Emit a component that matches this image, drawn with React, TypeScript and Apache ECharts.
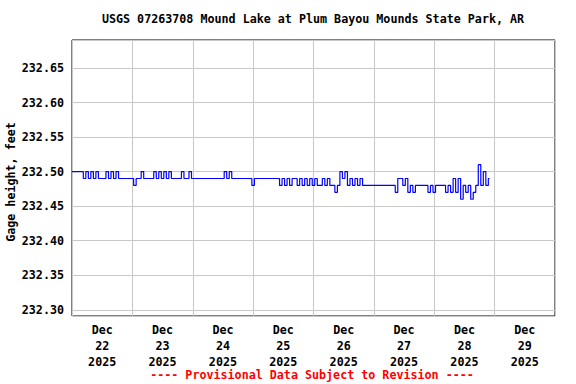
import React, { useEffect, useRef } from 'react';
import * as echarts from 'echarts';

const FONT = '"DejaVu Sans Mono", "Liberation Mono", monospace';
const FS = 11.7;
const TITLE = 'USGS 07263708 Mound Lake at Plum Bayou Mounds State Park, AR';
const FOOTER = '---- Provisional Data Subject to Revision ----';
const Y_NAME = 'Gage height, feet';
const MONTH = 'Dec';
const YEAR = '2025';
const DAYS = ['22', '23', '24', '25', '26', '27', '28', '29'];

// Hourly gage height (feet), starting Dec 22 2025 00:00
const STAGE = [
  232.50, 232.50, 232.50, 232.50, 232.50,
  232.49, 232.50, 232.49, 232.50, 232.49, 232.50, 232.49, 232.49, 232.49, 232.50, 232.49, 232.50, 232.49, 232.50,
  232.49, 232.49, 232.49, 232.49, 232.49, 232.49,
  232.48,
  232.49, 232.49,
  232.50,
  232.49, 232.49, 232.49, 232.49,
  232.50, 232.49, 232.50, 232.49, 232.50, 232.49, 232.50,
  232.49, 232.49, 232.49, 232.49,
  232.50,
  232.49, 232.49,
  232.50,
  232.49, 232.49, 232.49, 232.49, 232.49, 232.49, 232.49, 232.49, 232.49, 232.49, 232.49, 232.49, 232.49,
  232.50, 232.49, 232.50,
  232.49, 232.49, 232.49, 232.49, 232.49, 232.49, 232.49, 232.49,
  232.48,
  232.49, 232.49, 232.49, 232.49, 232.49, 232.49, 232.49, 232.49, 232.49, 232.49,
  232.48, 232.49, 232.48, 232.49, 232.48, 232.49, 232.49, 232.48, 232.49, 232.48, 232.49, 232.48, 232.49,
  232.48, 232.49, 232.48, 232.48, 232.49, 232.48, 232.49, 232.48, 232.48, 232.47,
  232.48, 232.50, 232.49, 232.50, 232.48, 232.49, 232.48, 232.49, 232.48, 232.49,
  232.48, 232.48, 232.48, 232.48, 232.48, 232.48, 232.48, 232.48, 232.48, 232.48, 232.48, 232.48, 232.48,
  232.47, 232.49, 232.49, 232.48, 232.49, 232.47, 232.48, 232.47,
  232.48, 232.48, 232.48, 232.48, 232.48,
  232.47, 232.48, 232.47,
  232.48, 232.48, 232.48, 232.48,
  232.47, 232.48, 232.47, 232.49, 232.47, 232.49, 232.46, 232.48, 232.47, 232.48, 232.46, 232.47, 232.48,
  232.51, 232.48, 232.50, 232.48, 232.49,
];

export default function App() {
  const ref = useRef<HTMLDivElement>(null);
  useEffect(() => {
    const chart = echarts.init(ref.current!, null, { renderer: 'svg' });
    const labelStyle = {
      fontFamily: FONT,
      fontSize: FS,
      fontWeight: 'bold' as const,
      color: '#000',
    };
    chart.setOption({
      animation: false,
      backgroundColor: '#fff',
      grid: {
        left: 72,
        top: 40,
        width: 483,
        height: 276,
        show: true,
        borderColor: '#000',
        borderWidth: 1,
        backgroundColor: 'transparent',
      },
      xAxis: [
        {
          type: 'value',
          min: 0,
          max: 192,
          interval: 24,
          axisLine: { show: false },
          axisTick: { show: false },
          axisLabel: { show: false },
          splitLine: { show: true, lineStyle: { color: '#c8c8c8', width: 1 } },
        },
        {
          type: 'value',
          min: 0,
          max: 192,
          interval: 12,
          position: 'bottom',
          axisLine: { show: false },
          axisTick: { show: false },
          splitLine: { show: false },
          axisLabel: {
            ...labelStyle,
            margin: 6,
            lineHeight: 16,
            formatter: (v: number) => {
              const i = Math.round(v);
              if (i % 24 !== 12) return '';
              const d = DAYS[(i - 12) / 24];
              return d ? `${MONTH}\n${d}\n${YEAR}` : '';
            },
          },
        },
      ],
      yAxis: {
        type: 'value',
        min: 232.291,
        max: 232.6905,
        splitNumber: 8,
        axisLine: { show: false },
        axisTick: { show: false },
        splitLine: { show: true, lineStyle: { color: '#c8c8c8', width: 1 } },
        axisLabel: {
          ...labelStyle,
          margin: 8,
          showMinLabel: false,
          showMaxLabel: false,
          formatter: (v: number) => v.toFixed(2),
        },
      },
      series: [
        {
          type: 'line',
          xAxisIndex: 0,
          yAxisIndex: 0,
          data: STAGE.map((v, i) => [i, v]),
          step: 'middle',
          showSymbol: false,
          symbol: 'none',
          silent: true,
          lineStyle: { color: '#0000ff', width: 1.2 },
          itemStyle: { color: '#0000ff' },
        },
      ],
      graphic: [
        {
          type: 'text',
          x: 313,
          y: 19,
          style: {
            text: TITLE,
            fill: '#000',
            font: `bold ${FS}px ${FONT}`,
            align: 'center',
            verticalAlign: 'middle',
          },
        },
        {
          type: 'text',
          x: 312,
          y: 375,
          style: {
            text: FOOTER,
            fill: '#ff0000',
            font: `bold ${FS}px ${FONT}`,
            align: 'center',
            verticalAlign: 'middle',
          },
        },
        {
          type: 'text',
          x: 11,
          y: 182,
          rotation: Math.PI / 2,
          style: {
            text: Y_NAME,
            fill: '#000',
            font: `bold ${FS}px ${FONT}`,
            align: 'center',
            verticalAlign: 'middle',
          },
        },
      ],
    });
    return () => chart.dispose();
  }, []);
  return (
    <div
      ref={ref}
      style={{ position: 'fixed', left: 0, top: 0, width: 576, height: 384, background: '#fff' }}
    />
  );
}
